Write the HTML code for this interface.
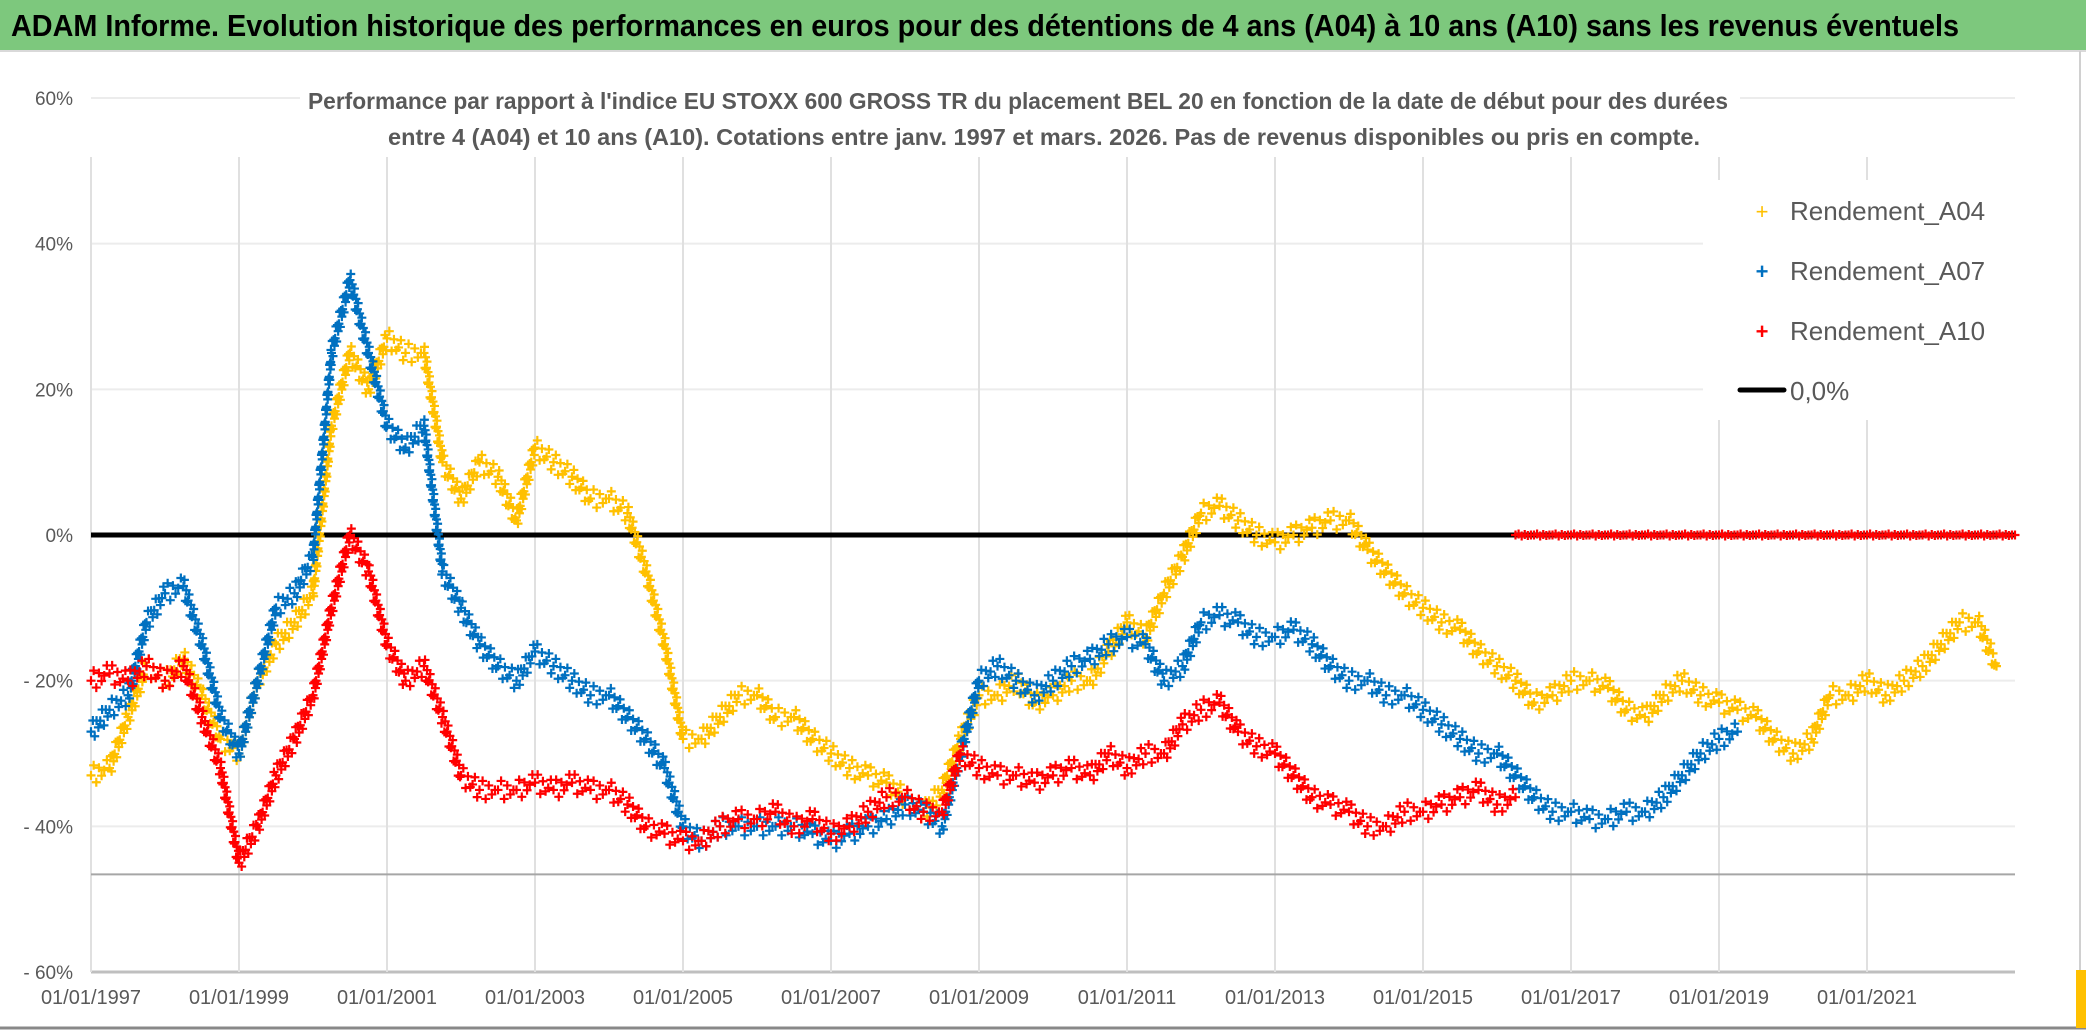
<!DOCTYPE html>
<html><head><meta charset="utf-8"><style>
html,body{margin:0;padding:0;background:#fff;}
svg{display:block;font-family:"Liberation Sans",sans-serif;}
</style></head><body>
<svg id="chart" width="2086" height="1031" viewBox="0 0 2086 1031">
<rect x="0" y="0" width="2086" height="50" fill="#7dc87d"/>
<text x="11" y="36" font-size="31" font-weight="bold" fill="#000" textLength="1948" lengthAdjust="spacingAndGlyphs">ADAM Informe. Evolution historique des performances en euros pour des détentions de 4 ans (A04) à 10 ans (A10) sans les revenus éventuels</text>
<line x1="0" y1="51" x2="2086" y2="51" stroke="#d9d9d9" stroke-width="2"/>
<line x1="2080" y1="51" x2="2080" y2="1028" stroke="#d0d0d0" stroke-width="2"/>
<line x1="0" y1="1028" x2="2086" y2="1028" stroke="#888" stroke-width="3"/>
<rect x="2076" y="970" width="10" height="58" fill="#ffc000"/>
<g id="grid"></g>
<g id="marks"></g>
<rect x="300" y="78" width="1440" height="78" fill="#fff"/>
<text x="1018" y="109" font-size="23.5" font-weight="bold" fill="#595959" text-anchor="middle" textLength="1420" lengthAdjust="spacingAndGlyphs">Performance par rapport à l'indice EU STOXX 600 GROSS TR  du placement BEL 20 en fonction de la date de début pour des durées</text>
<text x="1044" y="145" font-size="23.5" font-weight="bold" fill="#595959" text-anchor="middle" textLength="1312" lengthAdjust="spacingAndGlyphs">entre 4 (A04) et 10 ans (A10). Cotations entre janv. 1997 et mars. 2026. Pas de revenus disponibles ou pris en compte.</text>
<g>
<rect x="1703" y="180" width="312" height="240" fill="#fff"/>
<text x="1762" y="219" font-size="22" fill="#ffc000" text-anchor="middle">+</text>
<text x="1790" y="220" font-size="26" fill="#595959">Rendement_A04</text>
<text x="1762" y="279" font-size="22" fill="#0070c0" text-anchor="middle" font-weight="bold">+</text>
<text x="1790" y="280" font-size="26" fill="#595959">Rendement_A07</text>
<text x="1762" y="339" font-size="22" fill="#ff0000" text-anchor="middle" font-weight="bold">+</text>
<text x="1790" y="340" font-size="26" fill="#595959">Rendement_A10</text>
<line x1="1740" y1="390" x2="1784" y2="390" stroke="#000" stroke-width="5" stroke-linecap="round"/>
<text x="1790" y="400" font-size="26" fill="#595959">0,0%</text>
</g>
</svg>
<script>
const yTicks=[60,40,20,0,-20,-40,-60];
const yTickLabels=["60%","40%","20%","0%","- 20%","- 40%","- 60%"];
const xTicks=[1997,1999,2001,2003,2005,2007,2009,2011,2013,2015,2017,2019,2021];
const xTickLabels=["01/01/1997","01/01/1999","01/01/2001","01/01/2003","01/01/2005","01/01/2007","01/01/2009","01/01/2011","01/01/2013","01/01/2015","01/01/2017","01/01/2019","01/01/2021"];
const refLineValue=-46.6;
const zeroLineValue=0;
const a04Start=1997;
const a04Values=[-33,-32,-25,-18,-20,-17,-22,-28,-30,-20,-15,-12,-8,15,25,20,27,25,25,10,5,10,8,2,12,10,8,5,5,3,-5,-15,-28,-28,-25,-22,-22,-25,-25,-28,-30,-32,-33,-34,-36,-38,-35,-28,-22,-22,-20,-23,-22,-20,-20,-16,-12,-14,-8,-3,3,4,2,0,-1,0,1,2,2,-2,-5,-8,-10,-12,-13,-16,-18,-20,-23,-22,-20,-20,-21,-24,-25,-22,-20,-22,-23,-24,-25,-28,-30,-28,-22,-22,-20,-22,-20,-18,-15,-12,-12,-18];
const a07Start=1997;
const a07Values=[-27,-24,-22,-12,-8,-7,-15,-25,-30,-20,-10,-8,-3,25,35,25,15,12,15,-5,-10,-15,-18,-20,-16,-18,-20,-22,-22,-25,-28,-32,-40,-42,-40,-40,-40,-40,-40,-41,-42,-41,-40,-39,-37,-38,-40,-30,-20,-18,-20,-22,-20,-18,-17,-15,-14,-15,-20,-18,-12,-11,-12,-14,-14,-13,-15,-18,-20,-20,-22,-22,-24,-26,-28,-30,-30,-33,-36,-38,-38,-39,-39,-38,-38,-36,-33,-30,-28,-27];
const a10Start=1997;
const a10Values=[-20,-19,-20,-18,-20,-18,-25,-32,-45,-40,-33,-28,-22,-10,0,-5,-15,-20,-18,-25,-33,-35,-35,-35,-34,-35,-34,-35,-35,-37,-40,-41,-42,-42,-40,-39,-39,-38,-40,-39,-41,-40,-38,-36,-36,-38,-38,-30,-32,-33,-33,-34,-33,-32,-33,-30,-32,-30,-30,-26,-24,-23,-27,-29,-30,-33,-36,-37,-38,-40,-40,-38,-38,-37,-36,-35,-37,-36];
const a10ZeroStart=2016.25;
const a10ZeroValues=[0,0,0,0,0,0,0,0,0,0,0,0,0,0,0,0,0,0,0,0,0,0,0,0,0,0,0,0];

const NS="http://www.w3.org/2000/svg";
const X0=91,X1=2015,Y0=972,Y1=98;
function xs(yr){return X0+(yr-1997)*(X1-X0)/26;}
function ys(v){return 535-v*(Y0-Y1)/120;}
function mk(tag,attrs,parent){const e=document.createElementNS(NS,tag);for(const k in attrs)e.setAttribute(k,attrs[k]);parent.appendChild(e);return e;}
const grid=document.getElementById('grid');
const marks=document.getElementById('marks');
yTicks.forEach((t,i)=>{
  const l=mk('line',{x1:X0,x2:X1,y1:ys(t),y2:ys(t),stroke:(t===-60?'#bfbfbf':'#ececec'),'stroke-width':(t===-60?3:2)},grid);
  
  
  const tx=mk('text',{x:73,y:ys(t)+7,'font-size':19,fill:'#595959','text-anchor':'end'},grid);
  tx.textContent=yTickLabels[i];
  
  
});
xTicks.forEach((t,i)=>{
  const l=mk('line',{x1:xs(t),x2:xs(t),y1:157,y2:Y0,stroke:'#e0e0e0','stroke-width':2},grid);
  
  
  const tx=mk('text',{x:xs(t),y:1004,'font-size':20,fill:'#595959','text-anchor':'middle'},grid);
  tx.textContent=xTickLabels[i];
  
  
});
const rl=mk('line',{x1:X0,x2:X1,y1:ys(refLineValue),y2:ys(refLineValue),stroke:'#a6a6a6','stroke-width':2},grid);


const zl=mk('line',{x1:X0,x2:X1,y1:ys(zeroLineValue),y2:ys(zeroLineValue),stroke:'#000','stroke-width':5},marks);



function drawSeries(start,vals,color,name,spread){
  const g=mk('g',{},marks);
  
  
  const pts=vals.map((v,i)=>[xs(start+i*0.25),ys(v)]);
  let d='';
  const offs=[0,-1,1,-0.5,0.5];
  for(let i=0;i<pts.length-1;i++){
    const [ax,ay]=pts[i],[bx,by]=pts[i+1];
    const len=Math.hypot(bx-ax,by-ay);
    const n=Math.max(1,Math.round(len/3));
    for(let k=0;k<n;k++){
      const px=ax+(bx-ax)*k/n, py=ay+(by-ay)*k/n;
      const off=offs[k%5]*spread;
      d+='M'+(px-4.5)+','+(py+off)+'h9M'+px+','+(py+off-4.5)+'v9';
    }
  }
  const [lx,ly]=pts[pts.length-1];
  d+='M'+(lx-4.5)+','+ly+'h9M'+lx+','+(ly-4.5)+'v9';
  const p=mk('path',{d:d,stroke:color,'stroke-width':2.2,fill:'none'},g);
  
  
}
drawSeries(a04Start,a04Values,'#ffc000','series-a04',9);
drawSeries(a07Start,a07Values,'#0070c0','series-a07',9);
drawSeries(a10Start,a10Values,'#ff0000','series-a10',9);
drawSeries(a10ZeroStart,a10ZeroValues,'#ff0000','series-a10-zero',1);
</script>
</body></html>
